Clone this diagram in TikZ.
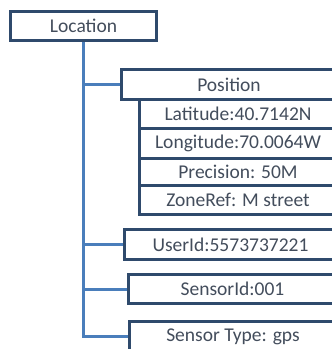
\documentclass[tikz,border=0pt]{standalone}
\usepackage{fontspec}
\setmainfont{Carlito}
\usepackage{xcolor}
\definecolor{boxline}{HTML}{2F4A6C}
\definecolor{linkblue}{HTML}{4A7EBB}
\definecolor{txtgray}{HTML}{434D5C}

\begin{document}
\begin{tikzpicture}[x=1pt,y=-1pt,
    box/.style={draw=boxline,line width=3pt,fill=white,text=txtgray,
      font=\fontsize{19.5}{22}\selectfont,anchor=north west,inner sep=0pt},
    link/.style={linkblue,line width=3pt}]
    % Frame
    \clip (0,0) rectangle (332,349);

    % Root
    \node[box,minimum width=146pt,minimum height=29pt] (loc) at (9,10) {Location};

    % Position details
    \node[box,minimum width=197pt,minimum height=29pt] (lat) at (138,98) {Latitude:40.7142N};
    \node[box,minimum width=197pt,minimum height=30pt] (lon) at (138,127) {Longitude:70.0064W};
    \node[box,minimum width=197pt,minimum height=27pt] (prec) at (138,157) {Precision: 50M};
    \node[box,minimum width=197pt,minimum height=29pt] (zone) at (138,184) {ZoneRef: M street};
    \node[box,minimum width=215pt,minimum height=30pt] (pos) at (120,68) {Position};

    % Other fields
    \node[box,minimum width=212pt,minimum height=30pt] (user) at (123,228) {UserId:5573737221};
    \node[box,minimum width=208pt,minimum height=29pt] (sens) at (127,273) {SensorId:001};
    \node[box,minimum width=207pt,minimum height=30pt] (type) at (128,320) {Sensor Type: gps};

    % Tree lines
    \foreach \leaf in {pos,user,sens,type} {
      \draw[link] (loc.south) |- (\leaf.west);
    }
\end{tikzpicture}
\end{document}
